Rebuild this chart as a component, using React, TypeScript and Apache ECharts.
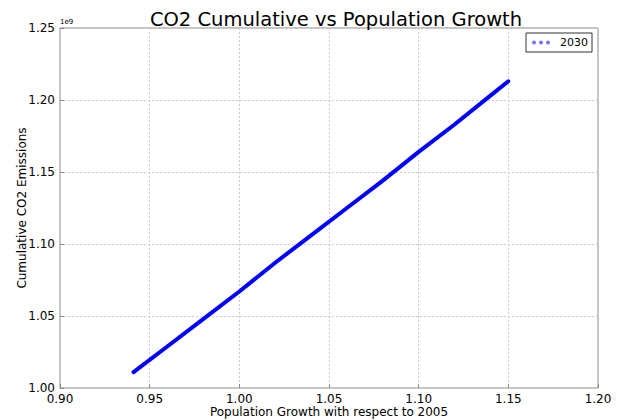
import React, { useEffect, useRef } from "react";
import * as echarts from "echarts";

const popGrowth = [0.941, 0.96, 0.98, 1.0, 1.02, 1.04, 1.06, 1.08, 1.1, 1.12, 1.14, 1.15];
const co2Cumulative = [1.011, 1.029, 1.048, 1.067, 1.087, 1.106, 1.125, 1.144, 1.164, 1.183, 1.203, 1.213];
const seriesName = "2030";
const xTicks = [0.9, 0.95, 1.0, 1.05, 1.1, 1.15, 1.2];
const yTicks = [1.0, 1.05, 1.1, 1.15, 1.2, 1.25];

const FONT = "DejaVu Sans";

export default function App() {
  const ref = useRef<HTMLDivElement>(null);
  useEffect(() => {
    document.body.style.margin = "0";
    if (!ref.current) return;
    const chart = echarts.init(ref.current, undefined, { renderer: "svg" });
    const dots = "path://M2,2m-2,0a2,2 0 1,0 4,0a2,2 0 1,0 -4,0M9,2m-2,0a2,2 0 1,0 4,0a2,2 0 1,0 -4,0M16,2m-2,0a2,2 0 1,0 4,0a2,2 0 1,0 -4,0";
    chart.setOption({
      animation: false,
      textStyle: { fontFamily: FONT },
      title: {
        text: "CO2 Cumulative vs Population Growth",
        left: 331,
        textAlign: "center",
        top: 4,
        textStyle: { fontFamily: FONT, fontSize: 19.5, fontWeight: "normal", color: "#000" },
      },
      legend: {
        right: 25,
        top: 33,
        orient: "vertical",
        borderColor: "#333",
        borderWidth: 1,
        padding: [4, 4, 4, 6],
        itemWidth: 18,
        itemHeight: 4,
        itemGap: 4,
        data: [{ name: seriesName, icon: dots, itemStyle: { color: "rgba(90,90,255,0.85)" } }],
        textStyle: { fontFamily: FONT, fontSize: 11, color: "#000", padding: [0, 0, 0, 5] },
      },
      graphic: [
        {
          type: "text",
          left: 60,
          top: 18,
          style: { text: "1e9", fontSize: 7, fontFamily: FONT, fill: "#000" },
        },
      ],
      grid: {
        left: 60,
        right: 19,
        top: 28,
        bottom: 32,
        outerBoundsMode: "none",
        containLabel: false,
        show: true,
        borderColor: "#888",
        borderWidth: 1,
      },
      xAxis: {
        type: "value",
        min: xTicks[0],
        max: xTicks[xTicks.length - 1],
        interval: 0.05,
        name: "Population Growth with respect to 2005",
        nameLocation: "middle",
        nameGap: 18,
        nameMoveOverlap: false,
        nameTextStyle: { fontFamily: FONT, fontSize: 12, color: "#000" },
        axisLine: { show: false },
        axisTick: { show: true, inside: true, length: 4, lineStyle: { color: "#888" } },
        axisLabel: {
          fontFamily: FONT,
          fontSize: 12,
          color: "#000",
          margin: 5,
          formatter: (v: number) => v.toFixed(2),
        },
        splitLine: { show: true, lineStyle: { color: "#ccc", type: [2, 2], width: 1 } },
      },
      yAxis: {
        type: "value",
        min: yTicks[0],
        max: yTicks[yTicks.length - 1],
        interval: 0.05,
        name: "Cumulative CO2 Emissions",
        nameLocation: "middle",
        nameGap: 32,
        nameMoveOverlap: false,
        nameTextStyle: { fontFamily: FONT, fontSize: 12, color: "#000" },
        axisLine: { show: false },
        axisTick: { show: true, inside: true, length: 4, lineStyle: { color: "#888" } },
        axisLabel: {
          fontFamily: FONT,
          fontSize: 12,
          color: "#000",
          margin: 5,
          formatter: (v: number) => v.toFixed(2),
        },
        splitLine: { show: true, lineStyle: { color: "#ccc", type: [2, 2], width: 1 } },
      },
      series: [
        {
          name: seriesName,
          type: "line",
          data: popGrowth.map((x, i) => [x, co2Cumulative[i]]),
          showSymbol: false,
          lineStyle: { color: "#0000ff", width: 4, cap: "round" },
          itemStyle: { color: "#0000ff" },
        },
      ],
    });
    return () => chart.dispose();
  }, []);
  return <div ref={ref} style={{ width: 617, height: 420 }} />;
}
